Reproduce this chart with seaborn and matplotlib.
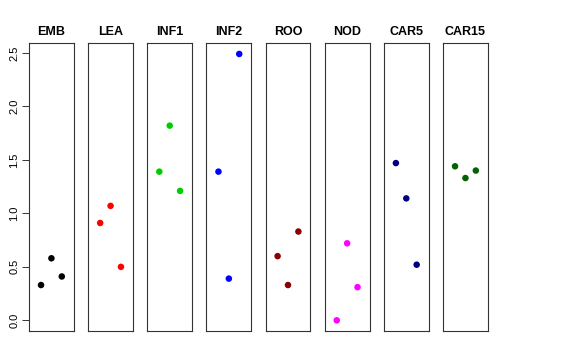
import matplotlib
matplotlib.use("Agg")
import matplotlib.pyplot as plt
import seaborn as sns
import pandas as pd

# one panel per tissue, three replicate values each
tissues = ["EMB", "LEA", "INF1", "INF2", "ROO", "NOD", "CAR5", "CAR15"]
replicate = [1, 2, 3]
emb = [0.33, 0.58, 0.41]
lea = [0.91, 1.07, 0.50]
inf1 = [1.39, 1.82, 1.21]
inf2 = [1.39, 0.39, 2.49]
roo = [0.60, 0.33, 0.83]
nod = [0.00, 0.72, 0.31]
car5 = [1.47, 1.14, 0.52]
car15 = [1.44, 1.33, 1.40]
colors = ["black", "red", "#00CD00", "blue", "#8B0000", "magenta", "#000080", "#006400"]

values = [emb, lea, inf1, inf2, roo, nod, car5, car15]
df = pd.DataFrame({
    "tissue": [t for t in tissues for _ in replicate],
    "rep": replicate * len(tissues),
    "value": [v for vals in values for v in vals],
})

sns.set_style("white")
plt.rcParams["font.family"] = ["Liberation Sans", "DejaVu Sans"]
plt.rcParams["text.color"] = "black"
plt.rcParams["ytick.color"] = "black"
plt.rcParams["ytick.labelcolor"] = "black"

fig, axes = plt.subplots(nrows=1, ncols=len(tissues), figsize=(5.76, 3.6), dpi=100, sharey=True)
plt.subplots_adjust(left=0.0503, right=0.847, top=0.8797, bottom=0.0806, wspace=0.318)

for i, tissue in enumerate(tissues):
    ax = axes[i]
    sub = df[df["tissue"] == tissue]
    sns.scatterplot(data=sub, x="rep", y="value", ax=ax, color=colors[i], s=22,
                    edgecolor="none", legend=False)
    ax.set_title(tissue, fontsize=9, fontweight="bold", pad=6, color="black")
    ax.set_xlim(-0.16, 4.16)
    ax.set_ylim(-0.0996, 2.5896)
    ax.set_xticks([])
    ax.set_xlabel("")
    ax.set_ylabel("")
    for sp in ax.spines.values():
        sp.set_visible(True)
        sp.set_color("#333333")
        sp.set_linewidth(0.8)
    if i == 0:
        ax.set_yticks([0.0, 0.5, 1.0, 1.5, 2.0, 2.5])
        ax.set_yticklabels(["0.0", "0.5", "1.0", "1.5", "2.0", "2.5"], rotation=90, va="center")
        ax.tick_params(axis="y", left=True, length=5, width=0.7, labelsize=8, pad=2,
                       color="#333333", labelcolor="black")
    else:
        ax.tick_params(axis="y", left=False, labelleft=False)

fig.savefig("out.png", dpi=100)
